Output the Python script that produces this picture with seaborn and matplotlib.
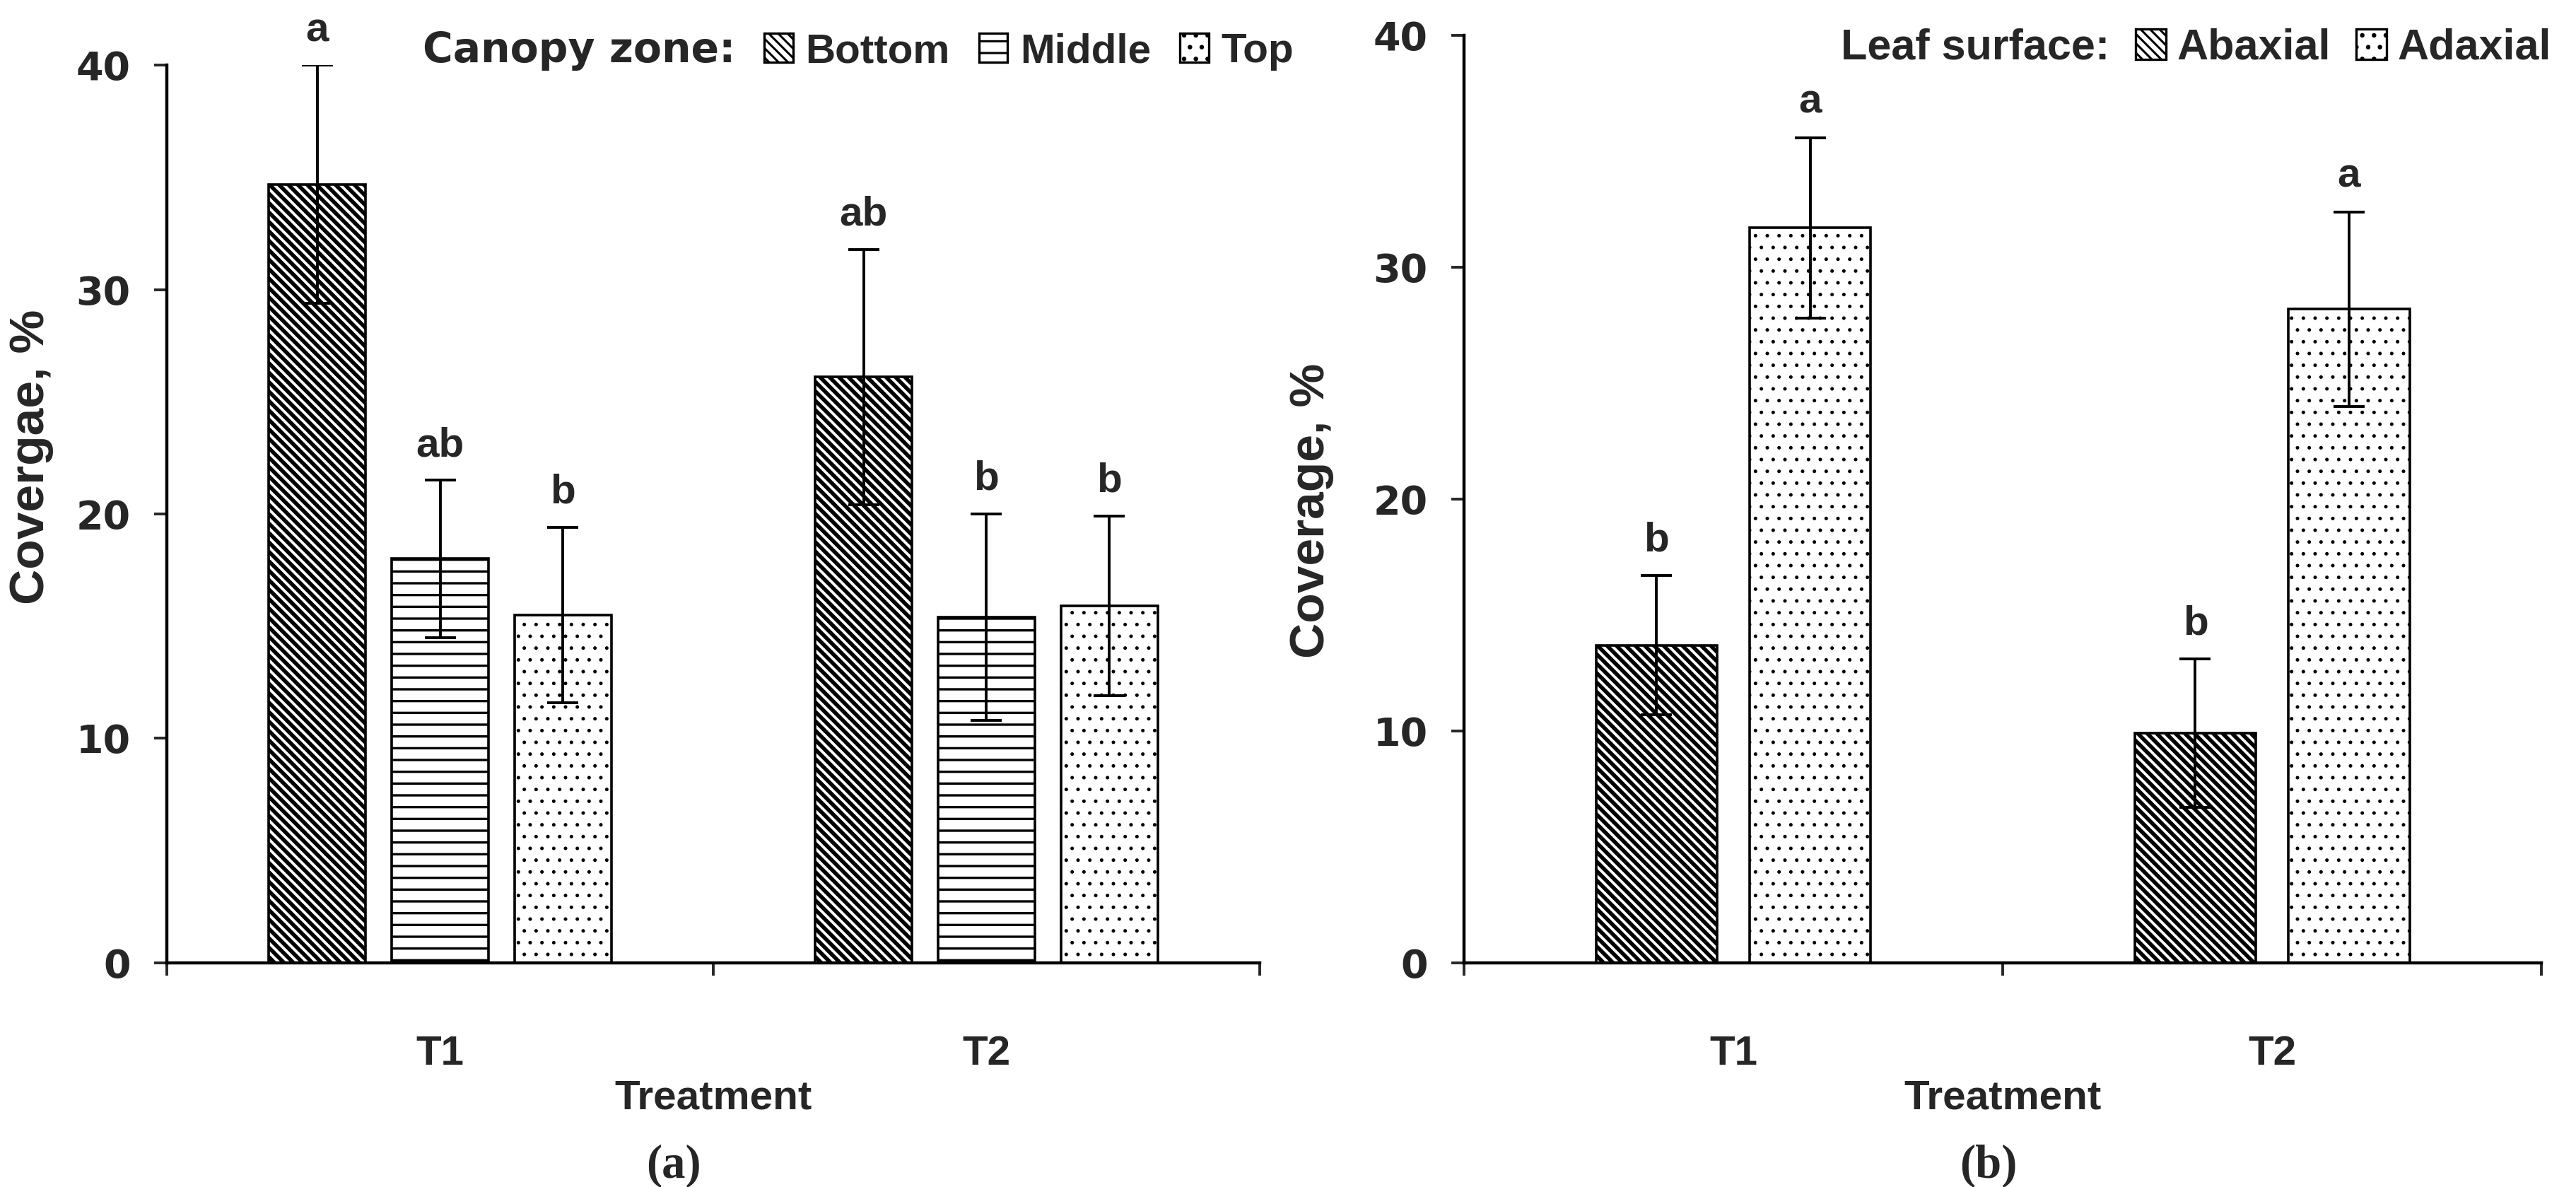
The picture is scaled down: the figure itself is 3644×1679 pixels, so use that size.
import numpy as np
import pandas as pd
import seaborn as sns
import matplotlib.pyplot as plt
from matplotlib.patches import Patch

sns.set_style('white')
plt.rcParams['hatch.linewidth'] = 1.1
plt.rcParams['font.family'] = ['Liberation Sans', 'DejaVu Sans']

# panel (a): canopy zone
treatments = ['T1', 'T2']
zones = ['Bottom', 'Middle', 'Top']
bottom_mean = [34.7, 26.1]
middle_mean = [18.0, 15.4]
top_mean = [15.5, 15.9]
bottom_err = [5.3, 5.7]
middle_err = [3.5, 4.6]
top_err = [3.9, 4.0]
bottom_letters = ['a', 'ab']
middle_letters = ['ab', 'b']
top_letters = ['b', 'b']

# panel (b): leaf surface
surfaces = ['Abaxial', 'Adaxial']
abaxial_mean = [13.7, 9.9]
adaxial_mean = [31.7, 28.2]
abaxial_err = [3.0, 3.2]
adaxial_err = [3.9, 4.2]
abaxial_letters = ['b', 'b']
adaxial_letters = ['a', 'a']

yticks = [0, 10, 20, 30, 40]

df_a = pd.DataFrame({'Treatment': treatments * 3,
                     'Zone': np.repeat(zones, 2),
                     'Coverage': bottom_mean + middle_mean + top_mean})
df_b = pd.DataFrame({'Treatment': treatments * 2,
                     'Surface': np.repeat(surfaces, 2),
                     'Coverage': abaxial_mean + adaxial_mean})

bold = dict(family='Liberation Sans', fontweight='bold')
wide = dict(family='DejaVu Sans', fontweight='bold')
diag = '\\\\\\\\\\'
hatch_lw = {diag: 2.0, '--': 1.2, '..': 0.6}


def style_axis(ax):
    sns.despine(ax=ax)
    for s in ['left', 'bottom']:
        ax.spines[s].set_linewidth(1.6)
        ax.spines[s].set_color('black')
    ax.set_xlim(-0.5, 1.5)
    ax.set_ylim(0, 40)
    ax.set_yticks(yticks)
    ax.set_yticklabels([str(t) for t in yticks], **wide, fontsize=20)
    ax.tick_params(axis='y', direction='out', length=6.5, width=1.4, pad=12, left=True)
    ax.set_xticks([0, 1])
    ax.set_xticklabels(treatments, **bold, fontsize=21)
    ax.tick_params(axis='x', which='major', length=0, pad=37)
    ax.set_xticks([-0.5, 0.5, 1.5], minor=True)
    ax.tick_params(axis='x', which='minor', direction='out', length=6.5, width=1.4, bottom=True)
    ax.set_xlabel('Treatment', **bold, fontsize=21, labelpad=3)
    ax.set_ylabel('')


def set_hatch(p, h):
    p.set_hatch(h)
    if hasattr(p, 'set_hatch_linewidth'):
        p.set_hatch_linewidth(hatch_lw[h])


def add_bars(ax, hatches, errs, letters):
    for cont, h, err, lab in zip(ax.containers, hatches, errs, letters):
        for bar, e, l in zip(cont, err, lab):
            set_hatch(bar, h)
            x = bar.get_x() + bar.get_width() / 2
            y = bar.get_height()
            ax.errorbar(x, y, yerr=e, color='black', elinewidth=1.4, capsize=8,
                        capthick=1.4, zorder=4)
            ax.text(x, y + e + 0.7, l, ha='center', va='bottom', fontsize=21, **bold)


def legend_handles(hatches):
    hs = [Patch(facecolor='none', edgecolor='none')]
    for h in hatches:
        p = Patch(facecolor='white', edgecolor='black', linewidth=1.2)
        set_hatch(p, h)
        hs.append(p)
    return hs


fig = plt.figure(figsize=(18.22, 8.395), dpi=200)
ax1 = fig.add_axes([0.0648, 0.189, 0.4242, 0.756])
ax2 = fig.add_axes([0.5683, 0.189, 0.4183, 0.781])

sns.barplot(data=df_a, x='Treatment', y='Coverage', hue='Zone', hue_order=zones,
            palette=['white'] * 3, edgecolor='black', linewidth=1.3, width=0.675,
            gap=0.21, errorbar=None, legend=False, ax=ax1)
add_bars(ax1, [diag, '--', '..'],
         [bottom_err, middle_err, top_err],
         [bottom_letters, middle_letters, top_letters])
style_axis(ax1)

sns.barplot(data=df_b, x='Treatment', y='Coverage', hue='Surface', hue_order=surfaces,
            palette=['white'] * 2, edgecolor='black', linewidth=1.3, width=0.57,
            gap=0.21, errorbar=None, legend=False, ax=ax2)
add_bars(ax2, [diag, '..'],
         [abaxial_err, adaxial_err],
         [abaxial_letters, adaxial_letters])
style_axis(ax2)

fig.text(0.012, 0.615, 'Covergae, %', rotation=90, ha='center', va='center', fontsize=25, **bold)
fig.text(0.509, 0.57, 'Coverage, %', rotation=90, ha='center', va='center', fontsize=25, **bold)

# legends with the title written inline
leg1 = ax1.legend(legend_handles([diag, '--', '..']), ['Canopy zone:'] + zones, ncol=4,
                  frameon=False, loc='upper right', bbox_to_anchor=(1.065, 1.08),
                  handlelength=0.7, handleheight=0.7, handletextpad=0.3,
                  columnspacing=0.7, prop=dict(family='Liberation Sans', weight='bold', size=21))
leg1.get_texts()[0].set_family('DejaVu Sans')

leg2 = ax2.legend(legend_handles([diag, '..']), ['Leaf surface:'] + surfaces, ncol=3,
                  frameon=False, loc='upper right', bbox_to_anchor=(1.045, 1.05),
                  handlelength=0.7, handleheight=0.7, handletextpad=0.25,
                  columnspacing=0.6,
                  prop=dict(family='Liberation Sans', weight='bold', size=22))

fig.text(0.2615, 0.018, '(a)', ha='center', va='center', fontsize=24,
         family='Liberation Serif', fontweight='bold')
fig.text(0.772, 0.018, '(b)', ha='center', va='center', fontsize=24,
         family='Liberation Serif', fontweight='bold')

fig.savefig('out.png', dpi=200)
